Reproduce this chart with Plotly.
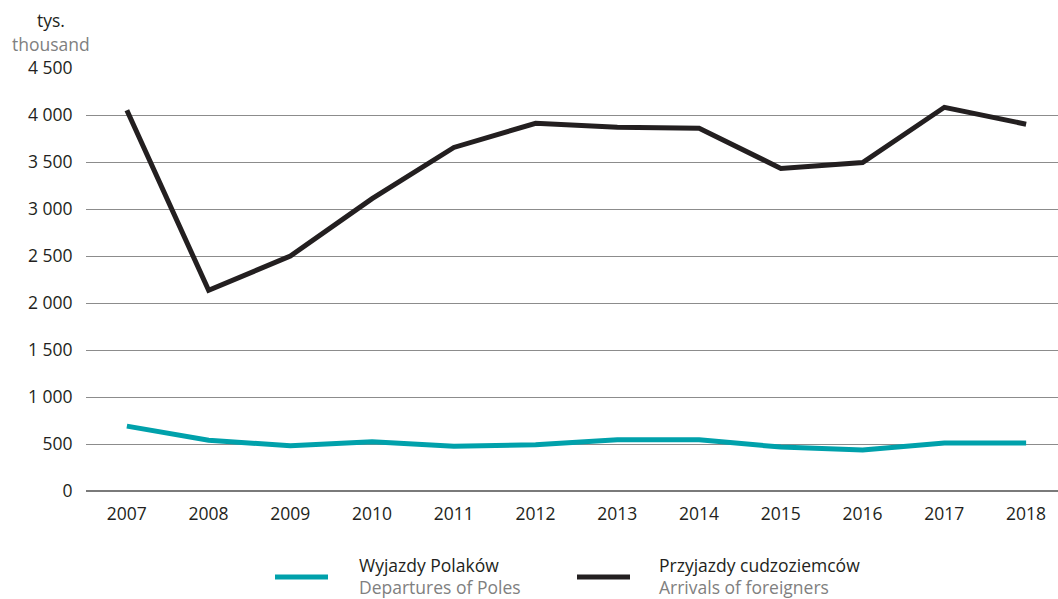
import plotly.graph_objects as go

# Annual travel flows, thousands
years = [2007, 2008, 2009, 2010, 2011, 2012, 2013, 2014, 2015, 2016, 2017, 2018]
departures_poles = [690, 540, 482, 525, 475, 493, 546, 545, 467, 436, 511, 511]
arrivals_foreigners = [4050, 2135, 2500, 3110, 3655, 3912, 3870, 3858, 3432, 3495, 4082, 3902]

y_ticks = [0, 500, 1000, 1500, 2000, 2500, 3000, 3500, 4000, 4500]

TEAL = "#00a1ab"
BLACK = "#231f20"
GREY_TEXT = "#808080"
FONT = "Open Sans"
FS = 17.5

fig = go.Figure()
fig.add_trace(go.Scatter(x=years, y=departures_poles, mode="lines",
                         line=dict(color=TEAL, width=5), name="Wyjazdy Polaków"))
fig.add_trace(go.Scatter(x=years, y=arrivals_foreigners, mode="lines",
                         line=dict(color=BLACK, width=5), name="Przyjazdy cudzoziemców"))

W, H = 1058, 599
L, R, T, B = 86, 0, 68, 108

fig.update_layout(
    width=W, height=H,
    margin=dict(l=L, r=R, t=T, b=B),
    paper_bgcolor="white", plot_bgcolor="white",
    showlegend=False,
    separators=", ",
    font=dict(family=FONT, size=FS, color=BLACK),
    xaxis=dict(range=[2006.5, 2018.39], tickmode="array", tickvals=years,
               ticktext=[str(y) for y in years], showgrid=False, zeroline=False,
               ticks="outside", ticklen=7, tickcolor="rgba(0,0,0,0)",
               tickfont=dict(size=FS, color=BLACK), showline=False),
    yaxis=dict(range=[0, 4500], tickmode="array", tickvals=y_ticks,
               tickformat=",d", showgrid=True, gridcolor="#8c8c8c", gridwidth=1,
               zeroline=True, zerolinecolor="#7a7a7a", zerolinewidth=2,
               ticks="outside", ticklen=9, tickcolor="rgba(0,0,0,0)",
               tickfont=dict(size=FS, color=BLACK), showline=False),
)

# paper coordinates span the plot area, so convert from page pixels
def px(x):
    return (x - L) / (W - L - R)

def py(y):
    return (H - B - y) / (H - T - B)

annotations = [
    dict(text="tys.", x=px(51), y=py(20), font=dict(size=FS, color=BLACK)),
    dict(text="thousand", x=px(51), y=py(44), font=dict(size=FS, color=GREY_TEXT)),
]

legend_items = [
    (TEAL, 275, 328, 357, "Wyjazdy Polaków", "Departures of Poles"),
    (BLACK, 577, 630, 657, "Przyjazdy cudzoziemców", "Arrivals of foreigners"),
]
shapes = []
for color, x0, x1, tx, pl, en in legend_items:
    shapes.append(dict(type="line", xref="paper", yref="paper",
                       x0=px(x0), x1=px(x1), y0=py(577), y1=py(577),
                       line=dict(color=color, width=5)))
    annotations.append(dict(text=pl, x=px(tx), y=py(565), xanchor="left",
                            font=dict(size=FS, color=BLACK)))
    annotations.append(dict(text=en, x=px(tx), y=py(587), xanchor="left",
                            font=dict(size=FS, color=GREY_TEXT)))

for a in annotations:
    a.update(xref="paper", yref="paper", showarrow=False, yanchor="middle")
    a.setdefault("xanchor", "center")

fig.update_layout(annotations=annotations, shapes=shapes)
fig.write_html("out.html")
